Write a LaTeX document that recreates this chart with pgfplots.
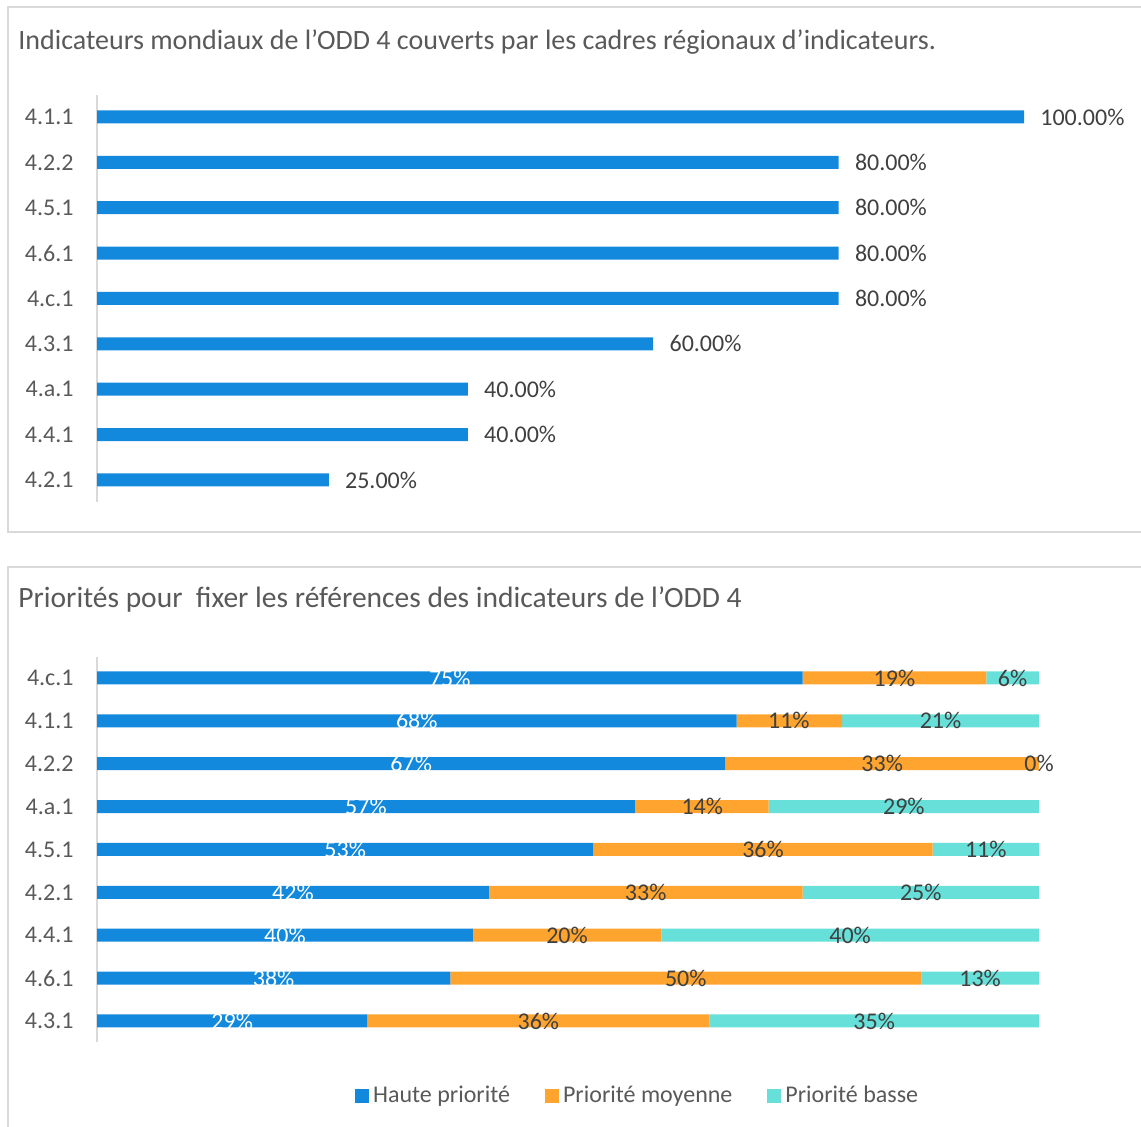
\documentclass[border=0pt]{standalone}
\usepackage{fontspec}
\setmainfont{Carlito}
\usepackage{pgfplots}
\usepackage{pgfplotstable}
\pgfplotsset{compat=1.18}
\definecolor{barblue}{HTML}{1289DC}
\definecolor{barorange}{HTML}{FFA42E}
\definecolor{barcyan}{HTML}{66E0D9}
\definecolor{txtgray}{HTML}{595959}
\definecolor{lblgray}{HTML}{404040}
\definecolor{framegray}{HTML}{D9D9D9}

\pgfplotstableread{
y h m b
8 74.9 19.5 5.6
7 67.9 11.2 20.9
6 66.7 33.3 0
5 57.1 14.2 28.7
4 52.7 36.0 11.3
3 41.6 33.3 25.1
2 39.9 20.0 40.1
1 37.5 50.0 12.5
0 28.7 36.3 35.0
}\prio

\pgfplotstableread{
y hc hl mc ml bc bl
8 37.45 75\% 84.65 19\% 97.2 6\%
7 33.95 68\% 73.45 11\% 89.55 21\%
6 33.35 67\% 83.35 33\% 100 0\%
5 28.55 57\% 64.25 14\% 85.65 29\%
4 26.35 53\% 70.7 36\% 94.35 11\%
3 20.8 42\% 58.25 33\% 87.45 25\%
2 19.95 40\% 49.9 20\% 79.95 40\%
1 18.75 38\% 62.5 50\% 93.75 13\%
0 14.35 29\% 46.85 36\% 82.5 35\%
}\priolab

\begin{document}
\begin{tikzpicture}
\path[use as bounding box] (0,0) rectangle (570.5pt,-563.5pt);
% panel frames
\draw[framegray, line width=1pt] (580pt,-3.5pt) -- (4pt,-3.5pt) -- (4pt,-266pt) -- (580pt,-266pt);
\draw[framegray, line width=1pt] (580pt,-283.5pt) -- (4pt,-283.5pt) -- (4pt,-570pt);
% titles
\node[anchor=base west, inner sep=0pt, text=txtgray, font=\fontsize{14}{17}\selectfont] at (9pt,-25pt)
  {Indicateurs mondiaux de l’ODD 4 couverts par les cadres régionaux d’indicateurs.};
\node[anchor=base west, inner sep=0pt, text=txtgray, font=\fontsize{14.75}{17}\selectfont] at (9pt,-304pt)
  {Priorités pour~ fixer les références des indicateurs de l’ODD 4};

% top chart
\begin{axis}[
  at={(48.5pt,-251pt)}, anchor=south west,
  scale only axis, width=463.5pt, height=203.5pt,
  xbar, bar width=6.5pt,
  xmin=0, xmax=100, ymin=-0.485, ymax=8.485,
  axis x line=none, axis y line=left,
  axis line style={-, framegray, line width=1pt},
  ytick={0,...,8},
  yticklabels={4.2.1,4.4.1,4.a.1,4.3.1,4.c.1,4.6.1,4.5.1,4.2.2,4.1.1},
  major tick length=0pt,
  yticklabel style={font=\fontsize{12}{14}\selectfont, text=txtgray, inner sep=0pt, xshift=-11.5pt},
  /pgf/number format/assume math mode=true,
  nodes near coords={\pgfmathprintnumber[fixed, fixed zerofill, precision=2]{\pgfplotspointmeta}\%},
  nodes near coords style={anchor=west, inner sep=0pt, xshift=8pt, text=lblgray, font=\fontsize{12}{14}\selectfont},
  clip=false,
]
\addplot[fill=barblue, draw=none] coordinates {
  (100,8) (80,7) (80,6) (80,5) (80,4) (60,3) (40,2) (40,1) (25,0)};
\end{axis}

% bottom chart: bars
\begin{axis}[
  at={(48.5pt,-521pt)}, anchor=south west,
  scale only axis, width=471pt, height=192.5pt,
  xbar stacked, bar width=6.5pt,
  xmin=0, xmax=100, ymin=-0.49, ymax=8.49,
  axis x line=none, axis y line=left,
  axis line style={-, framegray, line width=1pt},
  ytick={0,...,8},
  yticklabels={4.3.1,4.6.1,4.4.1,4.2.1,4.5.1,4.a.1,4.2.2,4.1.1,4.c.1},
  major tick length=0pt,
  yticklabel style={font=\fontsize{12}{14}\selectfont, text=txtgray, inner sep=0pt, xshift=-11.5pt},
  clip=false,
  legend style={at={(0.575,0)}, anchor=center, yshift=-27pt, draw=none,
    legend columns=3, font=\fontsize{12}{14}\selectfont, text=txtgray,
    /tikz/every odd column/.append style={column sep=0pt},
    /tikz/every even column/.append style={column sep=15.5pt}},
  legend image code/.code={\fill[#1] (0pt,-3.5pt) rectangle (7pt,3.5pt);},
]
\addplot[fill=barblue, draw=none] table[x=h, y=y] {\prio};
\addlegendentry{Haute priorité}
\addplot[fill=barorange, draw=none] table[x=m, y=y] {\prio};
\addlegendentry{Priorité moyenne}
\addplot[fill=barcyan, draw=none] table[x=b, y=y] {\prio};
\addlegendentry{Priorité basse}
\end{axis}

% bottom chart: segment labels
\begin{axis}[
  at={(48.5pt,-521pt)}, anchor=south west,
  scale only axis, width=471pt, height=192.5pt,
  xmin=0, xmax=100, ymin=-0.49, ymax=8.49,
  hide axis, clip=false,
  nodes near coords style={anchor=center, inner sep=0pt, font=\fontsize{12}{14}\selectfont},
]
\addplot[draw=none, mark=none, nodes near coords, point meta=explicit symbolic,
  every node near coord/.append style={text=white}] table[x=hc, y=y, meta=hl] {\priolab};
\addplot[draw=none, mark=none, nodes near coords, point meta=explicit symbolic,
  every node near coord/.append style={text=lblgray}] table[x=mc, y=y, meta=ml] {\priolab};
\addplot[draw=none, mark=none, nodes near coords, point meta=explicit symbolic,
  every node near coord/.append style={text=lblgray}] table[x=bc, y=y, meta=bl] {\priolab};
\end{axis}
\end{tikzpicture}
\end{document}
